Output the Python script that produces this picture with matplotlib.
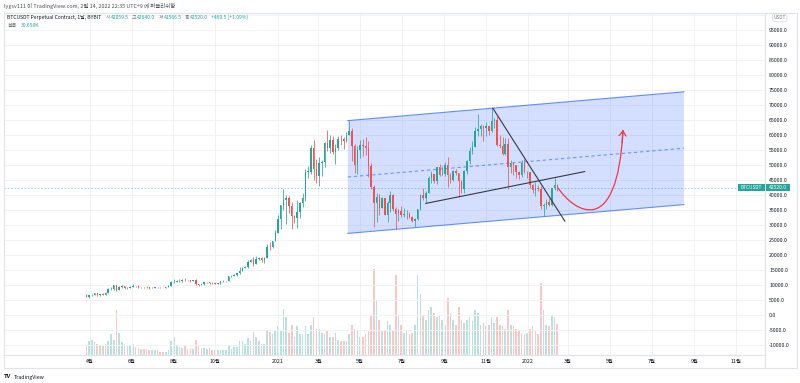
import numpy as np
import pandas as pd
import matplotlib
matplotlib.use('Agg')
import matplotlib.pyplot as plt
import matplotlib.dates as mdates
from matplotlib.path import Path
from matplotlib.patches import PathPatch, Polygon, Rectangle, FancyArrowPatch, FancyBboxPatch
from matplotlib.lines import Line2D

plt.rcParams['font.family'] = ['Noto Sans CJK KR', 'DejaVu Sans']

# ---------------- data (prices in thousand USDT, 4-day candles) ----------------
start_date = '2020-03-25'
step_days = 4
first_open = 6.70

close = [
    6.25, 6.64, 6.78, 7.30, 6.85, 7.10, 6.85, 7.55, 8.80, 8.90,
    9.95, 8.60, 9.30, 9.70, 9.18, 9.20, 9.45, 9.78, 9.75, 9.45,
    9.52, 9.35, 9.30, 9.00, 9.10, 9.35, 9.28, 9.25, 9.17, 9.53,
    9.93, 11.10, 11.20, 11.60, 11.40, 11.90, 11.75, 11.65, 11.35, 11.65,
    10.50, 10.10, 10.45, 10.95, 10.95, 10.75, 10.70, 10.60, 10.60, 11.30,
    11.43, 11.50, 12.95, 13.05, 13.55, 14.00, 14.80, 15.70, 15.95, 17.80,
    18.40, 17.10, 18.80, 19.15, 18.55, 19.15, 22.80, 22.70, 24.70, 27.30,
    32.20,
    36.8, 38.3, 39.2, 36.6, 33.0, 32.5, 34.3, 37.6,
    39.0, 47.9, 47.9, 55.9, 48.9, 46.3, 50.9,
    51.2, 57.3, 55.7, 58.3, 54.3, 55.8, 58.9,
    58.8, 58.0, 60.0, 61.3, 56.3, 50.0, 55.0, 56.6,
    56.4, 55.8, 49.7, 42.9, 37.5, 39.3, 35.7, 39.2,
    33.6, 37.3, 40.2, 35.5, 33.7, 34.7, 33.6,
    33.8, 33.8, 32.7, 31.5, 32.1, 35.4, 40.0, 39.2,
    40.9, 45.6, 47.1, 44.8, 49.3, 46.9, 47.0, 50.0,
    46.8, 45.1, 48.1, 47.3, 44.9, 42.2, 48.1,
    51.5, 54.9, 56.0, 61.5, 62.2, 63.1, 62.3, 63.2,
    61.5, 64.9, 65.0, 56.9, 56.3, 53.6, 57.0,
    49.4, 50.6, 50.1, 47.6, 46.7, 50.8, 47.6, 47.7,
    43.5, 41.9, 42.6, 42.2, 36.5, 36.9, 37.9, 36.9, 42.4, 43.6, 42.52,
]
high = [
    6.97, 6.75, 7.20, 7.47, 7.30, 7.20, 7.30, 7.70, 8.95, 9.45,
    9.98, 10.00, 9.90, 9.95, 9.55, 9.30, 9.75, 10.40, 9.85, 9.95,
    9.55, 9.55, 9.75, 9.30, 9.30, 9.35, 9.45, 9.35, 9.25, 9.55,
    10.10, 11.40, 12.10, 11.90, 12.05, 11.95, 12.45, 11.85, 11.80, 11.80,
    12.10, 10.50, 10.50, 11.00, 11.10, 10.95, 10.95, 10.90, 10.80, 11.50,
    11.70, 11.55, 13.20, 13.30, 13.85, 14.10, 15.95, 15.95, 16.50, 18.50,
    18.80, 19.40, 19.90, 19.55, 19.40, 19.40, 23.80, 24.30, 24.80, 28.40,
    33.30,
    36.9, 41.95, 40.0, 39.7, 37.8, 33.5, 38.5, 37.7,
    40.9, 48.6, 49.7, 56.6, 58.3, 52.0, 52.6,
    51.8, 57.9, 61.8, 60.0, 59.9, 57.0, 59.8,
    60.1, 59.5, 61.1, 64.9, 62.5, 57.0, 56.5, 58.4,
    58.9, 59.5, 58.0, 50.6, 43.5, 40.8, 40.4, 39.5,
    39.0, 38.0, 41.3, 40.5, 36.2, 35.5, 36.6,
    35.9, 35.1, 34.6, 33.0, 32.5, 35.4, 40.6, 42.6,
    41.4, 46.4, 48.1, 47.2, 49.4, 50.5, 49.6, 51.0,
    52.9, 47.3, 48.5, 48.8, 47.3, 45.0, 48.3,
    51.9, 56.0, 58.0, 62.9, 67.0, 63.7, 63.3, 64.4,
    63.0, 69.0, 65.6, 66.3, 60.0, 59.3, 59.2,
    59.0, 51.9, 50.8, 49.5, 48.0, 51.8, 52.0, 48.1,
    47.9, 43.7, 44.4, 43.4, 43.0, 37.5, 38.9, 39.2, 42.6, 45.8, 43.9,
]
low = [
    6.00, 5.86, 6.60, 6.78, 6.60, 6.55, 6.77, 6.85, 7.55, 8.40,
    8.60, 8.20, 8.60, 9.20, 8.90, 8.70, 9.30, 9.45, 9.55, 9.20,
    8.95, 9.20, 9.25, 8.85, 9.00, 9.05, 9.15, 9.15, 9.10, 9.15,
    9.45, 9.90, 10.65, 11.00, 11.20, 11.15, 11.60, 11.40, 11.10, 11.35,
    9.95, 9.90, 10.10, 10.20, 10.70, 10.35, 10.60, 10.40, 10.50, 10.60,
    11.20, 11.25, 11.40, 12.90, 13.00, 13.20, 13.90, 14.80, 15.80, 15.90,
    17.80, 16.30, 17.00, 18.60, 17.70, 17.60, 19.00, 21.80, 22.40, 24.70,
    27.30,
    28.7, 35.0, 30.3, 34.0, 28.8, 30.8, 29.2, 32.3,
    36.2, 38.0, 45.9, 47.1, 45.0, 44.1, 43.0,
    46.3, 49.3, 54.6, 54.0, 53.6, 50.5, 55.0,
    56.8, 55.5, 57.9, 60.0, 51.5, 47.5, 47.0, 52.4,
    53.0, 53.5, 46.0, 42.2, 29.5, 31.2, 33.4, 35.7,
    33.4, 31.0, 34.6, 34.8, 28.8, 31.3, 32.7,
    32.7, 32.1, 32.6, 31.1, 29.3, 31.7, 35.2, 38.3,
    37.5, 42.5, 44.2, 44.2, 43.9, 46.3, 46.7, 46.5,
    42.8, 44.1, 44.8, 46.8, 39.6, 40.8, 40.8,
    47.1, 50.4, 53.9, 56.8, 59.7, 59.8, 58.0, 59.6,
    60.0, 61.0, 62.3, 56.5, 55.6, 53.3, 53.3,
    42.0, 47.3, 46.8, 45.7, 45.5, 46.2, 47.3, 45.7,
    42.6, 40.9, 39.7, 41.5, 35.5, 33.0, 35.6, 36.6, 36.3, 41.7, 41.6,
]
volume_k = [
    9, 12, 13, 11, 10, 9, 8, 10, 12, 18,
    13, 39, 19, 11, 10, 8, 9,
    10, 7, 6, 5, 5, 5, 4, 4,
    4, 4, 3, 3, 3, 4, 12, 16,
    8, 7, 6, 9, 5, 6, 5,
    13, 9, 6, 6, 5, 6, 4, 4,
    4, 4, 4, 4, 8, 5, 7, 7,
    12, 12, 10, 15, 12, 20, 16,
    12, 10, 10, 22, 20, 18, 22, 25,
    22, 40, 33, 19, 26, 16, 25, 18,
    18, 25, 18, 26, 33, 23, 23,
    19, 18, 21, 16, 16, 19, 13,
    12, 12, 12, 18, 26, 23, 21, 16,
    16, 18, 21, 35, 75, 48, 31, 22,
    22, 30, 26, 22, 70, 35, 26,
    19, 21, 18, 19, 26, 70, 53, 35,
    31, 39, 42, 37, 33, 35, 31, 26,
    50, 37, 31, 26, 42, 31, 28,
    31, 33, 30, 39, 37, 26, 28, 25,
    26, 33, 28, 33, 26, 25, 23,
    39, 26, 25, 23, 21, 19, 18, 19,
    23, 25, 22, 18, 63, 39, 26, 25, 35, 33, 27,
]

# drawings
channel_dates = ['2021-04-13', '2022-08-17']
channel_top = [64900, 74500]
channel_bottom = [27300, 36900]
down_trend_dates = ['2021-11-11', '2022-02-24']
down_trend = [69000, 31400]
up_trend_dates = ['2021-08-05', '2022-03-25']
up_trend = [37300, 47900]
curve_dates = ['2022-02-14', '2022-03-10', '2022-05-12', '2022-05-20']
curve_prices = [42500, 34400, 25100, 61800]
last_price = 42520.0

price_ticks = list(range(-10000, 100001, 5000))
time_tick_dates = ['2020-04-01', '2020-06-01', '2020-08-01', '2020-10-01', '2021-01-01',
                   '2021-03-01', '2021-05-01', '2021-07-01', '2021-09-01', '2021-11-01',
                   '2022-01-01', '2022-03-01', '2022-05-01', '2022-07-01', '2022-09-01',
                   '2022-11-01']
time_tick_labels = ['4월', '6월', '8월', '10월', '2021', '3월', '5월', '7월', '9월', '11월',
                    '2022', '3월', '5월', '7월', '9월', '11월']

# ---------------- styling ----------------
W, H = 800, 383
UP, DOWN = '#26a69a', '#ef5350'
GRID = '#f0f2f6'
BORDER = '#e0e3eb'
TXT = '#131722'
GRAY = '#787b86'

def fx(x):
    return x / W

def fy(y):
    return 1 - y / H

fig = plt.figure(figsize=(W / 100, H / 100), dpi=100)
fig.patch.set_facecolor('white')

L, R, T, B = 4, 765, 12.5, 355
rect = [fx(L), fy(B), fx(R) - fx(L), fy(T) - fy(B)]
vax = fig.add_axes(rect, zorder=0)
ax = fig.add_axes(rect, zorder=1)
ax.patch.set_alpha(0)

ref = mdates.date2num(pd.Timestamp('2021-01-01'))
xlim = (ref - 400.3, ref + 711.5)
ylim = (-13233, 100933)

dates = pd.date_range(start_date, periods=len(close), freq=f'{step_days}D')
xs = mdates.date2num(dates) + step_days / 2.0
c = np.array(close) * 1000
o = np.array([first_open] + close[:-1]) * 1000
h = np.maximum(np.array(high) * 1000, np.maximum(o, c))
lo = np.minimum(np.array(low) * 1000, np.minimum(o, c))
up = c >= o
cols = np.where(up, UP, DOWN)

# volume
vax.bar(xs, volume_k, width=2.4, color=cols, alpha=0.32, linewidth=0)
vax.set_xlim(*xlim)
vax.set_ylim(0, 300)
vax.axis('off')

# grid
for p in price_ticks:
    ax.axhline(p, color=GRID, lw=0.7, zorder=0)
tick_nums = mdates.date2num(pd.to_datetime(time_tick_dates))
for t in tick_nums:
    ax.axvline(t, color=GRID, lw=0.7, zorder=0)

# channel
cd = mdates.date2num(pd.to_datetime(channel_dates))
poly = Polygon([(cd[0], channel_top[0]), (cd[1], channel_top[1]),
                (cd[1], channel_bottom[1]), (cd[0], channel_bottom[0])],
               closed=True, facecolor='#2962ff', alpha=0.2, edgecolor='none', zorder=1)
ax.add_patch(poly)
ax.plot(cd, channel_top, color='#2962ff', lw=0.8, alpha=0.7, zorder=2)
ax.plot(cd, channel_bottom, color='#2962ff', lw=0.8, alpha=0.7, zorder=2)
mid = [(a + b) / 2 for a, b in zip(channel_top, channel_bottom)]
ax.plot(cd, mid, color='#2962ff', lw=0.8, alpha=0.6, ls=(0, (3, 2.5)), zorder=2)

# current price dashed line
ax.axhline(last_price, color=UP, lw=0.6, alpha=0.5, ls=(0, (2, 2)), zorder=2)

# candles
ax.vlines(xs, lo, h, colors=cols, lw=0.55, zorder=3)
ax.bar(xs, np.where(np.abs(c - o) < 60, 60, c - o), bottom=o, width=2.2,
       color=cols, linewidth=0, zorder=4)

# trend lines
ax.plot(mdates.date2num(pd.to_datetime(down_trend_dates)), down_trend,
        color='#363a45', lw=0.8, zorder=5)
ax.plot(mdates.date2num(pd.to_datetime(up_trend_dates)), up_trend,
        color='#363a45', lw=0.8, zorder=5)

# red forecast curve
cvx = mdates.date2num(pd.to_datetime(curve_dates))
verts = list(zip(cvx, curve_prices))
path = Path(verts, [Path.MOVETO, Path.CURVE4, Path.CURVE4, Path.CURVE4])
ax.add_patch(PathPatch(path, fill=False, edgecolor='#f23645', lw=0.9, zorder=6))
P = np.array(verts)
tt = 0.96
pt = ((1 - tt) ** 3) * P[0] + 3 * ((1 - tt) ** 2) * tt * P[1] + 3 * (1 - tt) * tt ** 2 * P[2] + tt ** 3 * P[3]
ax.add_patch(FancyArrowPatch(posA=tuple(pt), posB=tuple(P[3]), arrowstyle='->,head_length=0.5,head_width=0.35',
                             mutation_scale=7, color='#f23645', lw=0.9, zorder=6,
                             shrinkA=0, shrinkB=0))

ax.set_xlim(*xlim)
ax.set_ylim(*ylim)

# axes ticks (top label is covered by the USDT button in the reference)
ax.yaxis.tick_right()
ax.set_yticks(price_ticks)
ax.set_yticklabels([f'{p:.1f}' if p < 100000 else '' for p in price_ticks])
ax.set_xticks(tick_nums)
ax.set_xticklabels(time_tick_labels)
ax.tick_params(axis='y', length=0, pad=3, labelsize=3.8, labelcolor=TXT)
ax.tick_params(axis='x', length=0, pad=2.6, labelsize=3.8, labelcolor=TXT)
for s in ax.spines.values():
    s.set_color(BORDER)
    s.set_linewidth(0.8)

# frame lines outside axes
for (x0, y0, x1, y1) in [(L, 368, 797, 368), (R, B, R, 368), (L, B, L, 368),
                         (R, T, 797, T), (797, T, 797, 368)]:
    fig.add_artist(Line2D([fx(x0), fx(x1)], [fy(y0), fy(y1)], color=BORDER, lw=0.8))

# header
renderer = fig.canvas.get_renderer()

def chain(parts, x0, y, fs):
    x = x0
    for s, col, gap in parts:
        t = fig.text(fx(x), fy(y), s, color=col, fontsize=fs, ha='left', va='center')
        bb = t.get_window_extent(renderer)
        x += bb.width + gap

chain([('lygsv111 이 TradingView.com, 2월 14, 2022 22:35 UTC+9 에 퍼블리쉬함', '#4a4d57', 0)], 4, 6, 3.9)
chain([('BTCUSDT Perpetual Contract, 1날, BYBIT', TXT, 4),
       ('시', GRAY, 0.3), ('42059.5', UP, 3.5),
       ('고', GRAY, 0.3), ('42640.0', UP, 3.5),
       ('저', GRAY, 0.3), ('41566.5', UP, 3.5),
       ('종', GRAY, 0.3), ('42520.0', UP, 3.5),
       ('+460.5 (+1.09%)', UP, 0)], 7.3, 17.3, 3.6)
chain([('볼륨', GRAY, 4), ('30.658K', UP, 0)], 7.3, 25.8, 3.6)

# price label boxes
fig.add_artist(Rectangle((fx(738), fy(191)), fx(764.5) - fx(738), fy(184) - fy(191),
                         facecolor=UP, edgecolor='none', transform=fig.transFigure, zorder=10))
fig.add_artist(Rectangle((fx(766), fy(191)), fx(790) - fx(766), fy(184) - fy(191),
                         facecolor=UP, edgecolor='none', transform=fig.transFigure, zorder=10))
fig.text(fx(751.2), fy(187.6), 'BTCUSDT', color='white', fontsize=3.4, ha='center', va='center', zorder=11)
fig.text(fx(778), fy(187.6), '42520.0', color='white', fontsize=3.6, ha='center', va='center', zorder=11)

# USDT button
fig.add_artist(FancyBboxPatch((fx(772.5), fy(21.8)), fx(787) - fx(772.5), fy(14) - fy(21.8),
                              boxstyle='round,pad=0,rounding_size=0.004', facecolor='white',
                              edgecolor='#d1d4dc', lw=0.5, transform=fig.transFigure, zorder=10))
fig.text(fx(779.7), fy(17.9), 'USDT', color=GRAY, fontsize=3.4, ha='center', va='center', zorder=11)

# logo
fig.text(fx(4), fy(377), 'TV', color=TXT, fontsize=4.2, fontweight='bold', ha='left', va='center')
fig.text(fx(13.5), fy(377), 'TradingView', color=TXT, fontsize=3.8, ha='left', va='center')

fig.savefig('out.png', dpi=100)
